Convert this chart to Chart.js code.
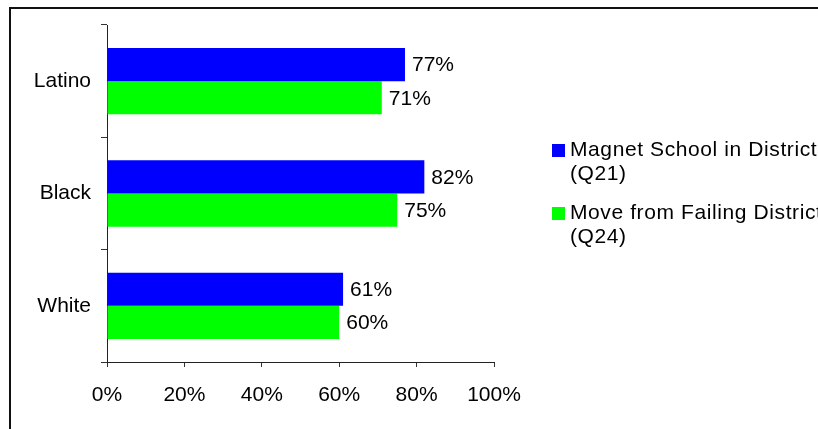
<!DOCTYPE html>
<html>
<head>
<meta charset="utf-8">
<script src="https://cdn.jsdelivr.net/npm/chart.js@4/dist/chart.umd.min.js"></script>
<style>
  html, body { margin: 0; padding: 0; background: #fff; }
  #wrap { width: 818px; height: 429px; position: relative; }
</style>
</head>
<body>
<div id="wrap"><canvas id="chart" width="818" height="429"></canvas></div>
<script>
// Data
const groups = ["Latino", "Black", "White"];
const magnetSchool = [77, 82, 61];   // Magnet School in District (Q21)
const failingDistrict = [71, 75, 60]; // Move from Failing District (Q24)
const seriesNames = [["Magnet School in District", "(Q21)"], ["Move from Failing District", "(Q24)"]];
const xTicks = [0, 20, 40, 60, 80, 100];

const FONT = "'Liberation Sans', Arial, sans-serif";

// Outer frame like the pasted chart object
const framePlugin = {
  id: "frame",
  beforeDraw(chart) {
    const c = chart.ctx;
    c.save();
    c.fillStyle = "#fff";
    c.fillRect(0, 0, chart.width, chart.height);
    c.strokeStyle = "#111";
    c.lineWidth = 2;
    c.beginPath();
    c.moveTo(10, chart.height);
    c.lineTo(10, 8);
    c.lineTo(chart.width, 8);
    c.stroke();
    c.restore();
  }
};

// Value labels at the end of each bar
const valueLabels = {
  id: "valueLabels",
  afterDatasetsDraw(chart) {
    const c = chart.ctx;
    c.save();
    c.font = "21px " + FONT;
    c.fillStyle = "#000";
    c.textBaseline = "middle";
    c.textAlign = "left";
    chart.data.datasets.forEach((ds, i) => {
      chart.getDatasetMeta(i).data.forEach((bar, j) => {
        c.fillText(ds.data[j] + "%", bar.x + 7, bar.y + 1);
      });
    });
    c.restore();
  }
};

// Legend on the right, wrapped onto two lines
const sideLegend = {
  id: "sideLegend",
  afterDraw(chart) {
    const c = chart.ctx;
    c.save();
    c.font = "21px " + FONT;
    c.letterSpacing = "0.6px";
    c.textBaseline = "alphabetic";
    const tops = [144, 207];
    chart.data.datasets.forEach((ds, i) => {
      const y = tops[i];
      c.fillStyle = ds.backgroundColor;
      c.fillRect(552, y, 13, 13);
      c.fillStyle = "#000";
      c.fillText(seriesNames[i][0], 570, y + 12);
      c.fillText(seriesNames[i][1], 570, y + 36);
    });
    c.restore();
  }
};

new Chart(document.getElementById("chart"), {
  type: "bar",
  data: {
    labels: groups,
    datasets: [
      { label: seriesNames[0].join(" "), data: magnetSchool, backgroundColor: "#0000ff" },
      { label: seriesNames[1].join(" "), data: failingDistrict, backgroundColor: "#00ff00" }
    ]
  },
  options: {
    indexAxis: "y",
    responsive: false,
    animation: false,
    layout: { padding: { left: 0, top: 25, right: 324, bottom: 27 } },
    datasets: { bar: { barPercentage: 1, categoryPercentage: 0.59 } },
    plugins: { legend: { display: false }, tooltip: { enabled: false } },
    scales: {
      x: {
        min: 0,
        max: 100,
        afterBuildTicks(scale) { scale.ticks = xTicks.map(v => ({ value: v })); },
        afterFit(scale) { scale.height = 40; },
        grid: { drawOnChartArea: false, drawTicks: true, tickLength: 5, color: "#333" },
        border: { color: "#222", width: 1 },
        ticks: {
          padding: 16,
          color: "#000",
          font: { family: FONT, size: 21 },
          maxRotation: 0,
          callback: v => v + "%"
        }
      },
      y: {
        afterFit(scale) { scale.width = 107; },
        grid: { drawOnChartArea: false, drawTicks: true, tickLength: 6, color: "#333", offset: true },
        border: { color: "#222", width: 1 },
        ticks: { padding: 10, color: "#000", font: { family: FONT, size: 21 } }
      }
    }
  },
  plugins: [framePlugin, valueLabels, sideLegend]
});
</script>
</body>
</html>
